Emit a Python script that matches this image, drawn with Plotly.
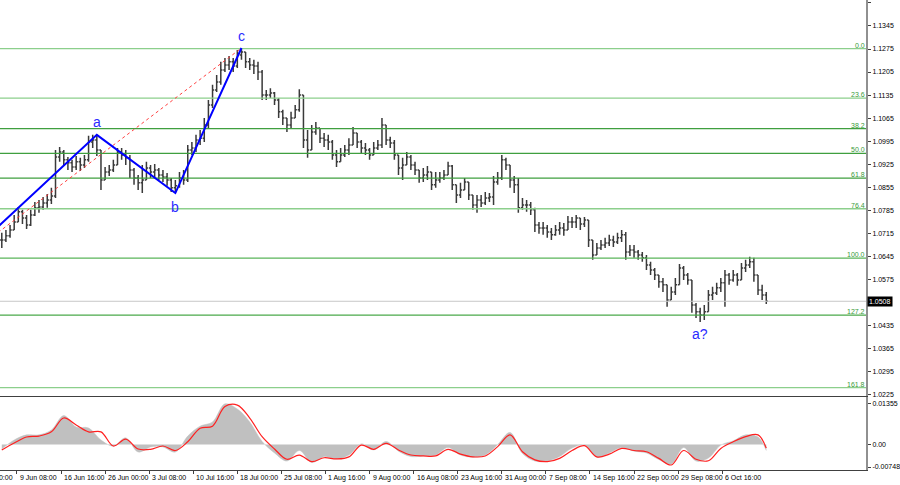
import plotly.graph_objects as go

# ---------------- data ----------------
TIME_LABELS = ["2 Jun 00:00", "9 Jun 08:00", "16 Jun 16:00", "26 Jun 00:00", "3 Jul 08:00",
               "10 Jul 16:00", "18 Jul 00:00", "25 Jul 08:00", "1 Aug 16:00", "9 Aug 00:00",
               "16 Aug 08:00", "23 Aug 16:00", "31 Aug 00:00", "7 Sep 08:00", "14 Sep 16:00",
               "22 Sep 00:00", "29 Sep 08:00", "6 Oct 16:00"]
BARS_PER_LABEL = 32          # H4 bars between time labels
FIRST_BAR = 21               # H4 index of first 12h bar (index 0 = 2 Jun 00:00)
BAR_STEP = 3                 # each drawn bar = 3 H4 bars

close = [1.0694, 1.0707, 1.0725, 1.0749, 1.0780, 1.0761, 1.0740, 1.0770, 1.0792, 1.0795,
         1.0807, 1.0816, 1.0828, 1.0947, 1.0962, 1.0938, 1.0929, 1.0916, 1.0932, 1.0922,
         1.0938, 1.0992, 1.0998, 1.0968, 1.0877, 1.0901, 1.0907, 1.0922, 1.0962, 1.0953,
         1.0944, 1.0907, 1.0883, 1.0868, 1.0877, 1.0913, 1.0901, 1.0907, 1.0892, 1.0886,
         1.0877, 1.0853, 1.0859, 1.0883, 1.0877, 1.0968, 1.0974, 1.0998, 1.1004, 1.1044,
         1.1105, 1.1150, 1.1175, 1.1211, 1.1226, 1.1236, 1.1223, 1.1257, 1.1266, 1.1236,
         1.1226, 1.1223, 1.1205, 1.1135, 1.1135, 1.1141, 1.1120, 1.1084, 1.1065, 1.1044,
         1.1065, 1.1090, 1.1135, 1.0998, 1.0968, 1.1023, 1.1035, 1.1004, 1.0998, 1.0992,
         1.0953, 1.0932, 1.0953, 1.0968, 1.0983, 1.1020, 1.0992, 1.0974, 1.0968, 1.0953,
         1.0974, 1.0983, 1.1044, 1.0998, 1.0989, 1.0953, 1.0913, 1.0922, 1.0947, 1.0922,
         1.0907, 1.0883, 1.0892, 1.0901, 1.0862, 1.0877, 1.0883, 1.0892, 1.0919, 1.0862,
         1.0831, 1.0846, 1.0871, 1.0831, 1.0801, 1.0816, 1.0807, 1.0822, 1.0825, 1.0871,
         1.0883, 1.0938, 1.0922, 1.0877, 1.0862, 1.0792, 1.0801, 1.0801, 1.0786, 1.0740,
         1.0731, 1.0731, 1.0719, 1.0710, 1.0725, 1.0731, 1.0725, 1.0749, 1.0749, 1.0761,
         1.0743, 1.0755, 1.0694, 1.0649, 1.0670, 1.0679, 1.0685, 1.0694, 1.0688, 1.0701,
         1.0710, 1.0658, 1.0664, 1.0658, 1.0649, 1.0640, 1.0618, 1.0603, 1.0588, 1.0567,
         1.0558, 1.0512, 1.0536, 1.0558, 1.0609, 1.0588, 1.0573, 1.0497, 1.0476, 1.0466,
         1.0476, 1.0527, 1.0533, 1.0549, 1.0564, 1.0588, 1.0573, 1.0588, 1.0573, 1.0609,
         1.0618, 1.0628, 1.0588, 1.0542, 1.0527, 1.0508]

high = [1.0716, 1.0725, 1.0740, 1.0770, 1.0795, 1.0786, 1.0770, 1.0786, 1.0810, 1.0816,
        1.0825, 1.0834, 1.0853, 1.0968, 1.0977, 1.0968, 1.0947, 1.0938, 1.0950, 1.0944,
        1.0953, 1.1011, 1.1014, 1.1014, 1.0968, 1.0916, 1.0922, 1.0938, 1.0974, 1.0974,
        1.0968, 1.0953, 1.0913, 1.0892, 1.0922, 1.0932, 1.0922, 1.0925, 1.0913, 1.0907,
        1.0898, 1.0883, 1.0877, 1.0901, 1.0907, 1.0983, 1.0992, 1.1014, 1.1029, 1.1065,
        1.1120, 1.1166, 1.1196, 1.1236, 1.1248, 1.1254, 1.1248, 1.1272, 1.1278, 1.1266,
        1.1248, 1.1242, 1.1236, 1.1211, 1.1150, 1.1156, 1.1144, 1.1126, 1.1090, 1.1065,
        1.1084, 1.1105, 1.1153, 1.1135, 1.1029, 1.1044, 1.1053, 1.1035, 1.1020, 1.1014,
        1.0998, 1.0968, 1.0974, 1.0983, 1.1004, 1.1038, 1.1020, 1.0998, 1.0989, 1.0974,
        1.0992, 1.0998, 1.1065, 1.1044, 1.1008, 1.0998, 1.0953, 1.0944, 1.0962, 1.0953,
        1.0932, 1.0907, 1.0913, 1.0919, 1.0892, 1.0901, 1.0901, 1.0907, 1.0932, 1.0922,
        1.0862, 1.0868, 1.0883, 1.0871, 1.0831, 1.0831, 1.0831, 1.0840, 1.0837, 1.0889,
        1.0901, 1.0953, 1.0944, 1.0922, 1.0889, 1.0883, 1.0822, 1.0816, 1.0810, 1.0792,
        1.0749, 1.0749, 1.0740, 1.0731, 1.0740, 1.0749, 1.0746, 1.0767, 1.0764, 1.0770,
        1.0761, 1.0764, 1.0755, 1.0694, 1.0685, 1.0694, 1.0701, 1.0710, 1.0707, 1.0716,
        1.0725, 1.0719, 1.0679, 1.0679, 1.0664, 1.0658, 1.0649, 1.0628, 1.0609, 1.0588,
        1.0579, 1.0558, 1.0552, 1.0579, 1.0621, 1.0615, 1.0594, 1.0573, 1.0503, 1.0488,
        1.0497, 1.0542, 1.0552, 1.0564, 1.0579, 1.0603, 1.0594, 1.0603, 1.0594, 1.0624,
        1.0634, 1.0643, 1.0640, 1.0588, 1.0558, 1.0536]

low = [1.0670, 1.0688, 1.0701, 1.0725, 1.0749, 1.0743, 1.0728, 1.0737, 1.0767, 1.0777,
       1.0786, 1.0792, 1.0804, 1.0822, 1.0932, 1.0919, 1.0907, 1.0901, 1.0907, 1.0904,
       1.0913, 1.0932, 1.0974, 1.0950, 1.0846, 1.0877, 1.0889, 1.0901, 1.0922, 1.0938,
       1.0922, 1.0883, 1.0862, 1.0846, 1.0837, 1.0889, 1.0883, 1.0886, 1.0877, 1.0871,
       1.0859, 1.0840, 1.0837, 1.0853, 1.0862, 1.0871, 1.0953, 1.0962, 1.0983, 1.0992,
       1.1035, 1.1096, 1.1144, 1.1166, 1.1205, 1.1211, 1.1205, 1.1217, 1.1242, 1.1217,
       1.1211, 1.1199, 1.1181, 1.1120, 1.1120, 1.1126, 1.1105, 1.1065, 1.1044, 1.1023,
       1.1035, 1.1065, 1.1084, 1.0974, 1.0944, 1.0983, 1.1014, 1.0989, 1.0977, 1.0968,
       1.0938, 1.0916, 1.0932, 1.0947, 1.0953, 1.0983, 1.0974, 1.0959, 1.0953, 1.0938,
       1.0959, 1.0968, 1.0974, 1.0983, 1.0974, 1.0938, 1.0892, 1.0877, 1.0922, 1.0907,
       1.0892, 1.0868, 1.0871, 1.0877, 1.0846, 1.0853, 1.0868, 1.0877, 1.0892, 1.0846,
       1.0807, 1.0822, 1.0846, 1.0816, 1.0786, 1.0777, 1.0795, 1.0801, 1.0810, 1.0801,
       1.0862, 1.0877, 1.0907, 1.0853, 1.0837, 1.0777, 1.0786, 1.0780, 1.0770, 1.0719,
       1.0713, 1.0710, 1.0701, 1.0694, 1.0707, 1.0710, 1.0707, 1.0731, 1.0731, 1.0731,
       1.0725, 1.0734, 1.0673, 1.0634, 1.0649, 1.0664, 1.0670, 1.0676, 1.0673, 1.0682,
       1.0688, 1.0634, 1.0646, 1.0640, 1.0634, 1.0628, 1.0603, 1.0588, 1.0573, 1.0549,
       1.0536, 1.0491, 1.0512, 1.0527, 1.0558, 1.0573, 1.0558, 1.0473, 1.0457, 1.0445,
       1.0451, 1.0476, 1.0512, 1.0527, 1.0536, 1.0491, 1.0558, 1.0567, 1.0555, 1.0579,
       1.0597, 1.0609, 1.0567, 1.0527, 1.0512, 1.0500]

# oscillator (MACD-like): histogram and signal line, sampled every 3rd bar + last bar
osc_hist = [-0.0015, 0.0015, 0.0032, 0.0032, 0.0048, 0.0096, 0.0058, 0.0055, 0.0015, -0.0005,
            0.0022, -0.0025, -0.0008, -0.0008, -0.0025, 0.0028, 0.0061, 0.0075, 0.0135, 0.0118,
            0.0075, 0.0010, -0.0028, -0.0055, -0.0020, -0.0060, -0.0040, -0.0048, -0.0035, 0.0002,
            -0.0018, 0.0010, -0.0022, -0.0040, -0.0038, -0.0035, -0.0010, -0.0035, -0.0042, -0.0035,
            0.0000, 0.0040, -0.0030, -0.0055, -0.0055, -0.0040, -0.0012, -0.0002, -0.0042, -0.0028,
            -0.0010, -0.0022, -0.0028, -0.0050, -0.0065, -0.0010, -0.0055, -0.0045, -0.0002, 0.0012,
            0.0032, 0.0025, -0.0020]
osc_signal = [-0.0018, 0.0005, 0.0025, 0.0028, 0.0042, 0.0088, 0.0065, 0.0042, 0.0042, -0.0005,
              0.0018, -0.0015, -0.0016, -0.0005, -0.0020, 0.0009, 0.0054, 0.0061, 0.0126, 0.0131,
              0.0088, 0.0026, -0.0015, -0.0049, -0.0035, -0.0057, -0.0044, -0.0048, -0.0041, -0.0002,
              -0.0016, 0.0004, -0.0018, -0.0035, -0.0038, -0.0038, -0.0016, -0.0032, -0.0041, -0.0038,
              -0.0007, 0.0032, -0.0024, -0.0051, -0.0057, -0.0046, -0.0020, -0.0004, -0.0041, -0.0032,
              -0.0013, -0.0020, -0.0024, -0.0046, -0.0068, -0.0020, -0.0049, -0.0054, -0.0013, 0.0009,
              0.0026, 0.0032, -0.0012]

# Elliott wave points (H4 index, price)
wave_x = [-6, 90, 147, 195]
wave_y = [1.0640, 1.1014, 1.0837, 1.1278]
wave_labels = ["", "a", "b", "c"]
extra_label = ("a?", 528, 1.0445)

# Fibonacci
FIB_HIGH = 1.1276
FIB_LOW = 1.0639
FIB_RATIOS = [0.0, 0.236, 0.382, 0.5, 0.618, 0.764, 1.0, 1.272, 1.618]
FIB_TEXT = ["0.0", "23.6", "38.2", "50.0", "61.8", "76.4", "100.0", "127.2", "161.8"]
FIB_COLORS = ["#8ccf8c", "#8ccf8c", "#3f9f3f", "#3f9f3f", "#3f9f3f", "#8ccf8c", "#5ab55a", "#4aa94a", "#8ccf8c"]

CURRENT_PRICE = 1.0508
PRICE_TICKS = [1.1415, 1.1345, 1.1275, 1.1205, 1.1135, 1.1065, 1.0995, 1.0925, 1.0855,
               1.0785, 1.0715, 1.0645, 1.0575, 1.0435, 1.0365, 1.0295, 1.0225]
OSC_TICKS = [0.01355, 0.0, -0.00748]
OSC_TICK_TEXT = ["0.01355", "0.00", "-0.00748"]

# ---------------- figure ----------------
XMIN, XMAX = 19.7, 648.4
YMAIN = [1.0220, 1.1424]
YOSC = [-0.00847, 0.01578]

bar_x = [FIRST_BAR + BAR_STEP * k for k in range(len(close))]
opens = [close[0]] + close[:-1]
hi = [max(h, o, c) for h, o, c in zip(high, opens, close)]
lo = [min(l, o, c) for l, o, c in zip(low, opens, close)]
osc_x = bar_x[::3] + [bar_x[-1]]

fig = go.Figure()

# fib lines
for r, t, col in zip(FIB_RATIOS, FIB_TEXT, FIB_COLORS):
    lvl = FIB_HIGH - r * (FIB_HIGH - FIB_LOW)
    fig.add_trace(go.Scatter(x=[XMIN, XMAX], y=[lvl, lvl], mode="lines",
                             line=dict(color=col, width=1.3), xaxis="x", yaxis="y",
                             hoverinfo="skip", showlegend=False))
    fig.add_annotation(x=1, xref="paper", y=lvl, yref="y", text=t, showarrow=False,
                       xanchor="right", yanchor="bottom", xshift=1, yshift=-2,
                       font=dict(family="Liberation Sans", size=7, color="#3a9a3a"))

# current price line
fig.add_trace(go.Scatter(x=[XMIN, XMAX], y=[CURRENT_PRICE, CURRENT_PRICE], mode="lines",
                         line=dict(color="#c8c8c8", width=1), xaxis="x", yaxis="y",
                         hoverinfo="skip", showlegend=False))

# price bars
fig.add_trace(go.Ohlc(x=bar_x, open=opens, high=hi, low=lo, close=close,
                      increasing=dict(line=dict(color="#3a3a3a", width=1.5)),
                      decreasing=dict(line=dict(color="#3a3a3a", width=1.5)),
                      tickwidth=0.4, xaxis="x", yaxis="y", hoverinfo="skip",
                      showlegend=False))

# red dashed fib trendline
fig.add_trace(go.Scatter(x=[wave_x[0], wave_x[-1]], y=[wave_y[0], wave_y[-1]], mode="lines",
                         line=dict(color="#ff4040", width=1, dash="dot"), xaxis="x", yaxis="y",
                         hoverinfo="skip", showlegend=False))
# blue wave lines
fig.add_trace(go.Scatter(x=wave_x, y=wave_y, mode="lines",
                         line=dict(color="#0000ff", width=2), xaxis="x", yaxis="y",
                         hoverinfo="skip", showlegend=False))

label_font = dict(family="Liberation Sans", size=14, color="#2b2bff")
shifts = {"a": 13, "b": -14, "c": 12}
for lx, ly, lt in zip(wave_x, wave_y, wave_labels):
    if lt:
        fig.add_annotation(x=lx, y=ly, xref="x", yref="y", text=lt, showarrow=False,
                           yshift=shifts[lt], font=label_font)
fig.add_annotation(x=extra_label[1], y=extra_label[2], xref="x", yref="y", text=extra_label[0],
                   showarrow=False, yshift=-12, font=label_font)

# oscillator
fig.add_trace(go.Scatter(x=osc_x, y=osc_hist, mode="lines", fill="tozeroy",
                         fillcolor="#c0c0c0", line=dict(color="#c0c0c0", width=0.5, shape="spline"),
                         xaxis="x2", yaxis="y2", hoverinfo="skip", showlegend=False))
fig.add_trace(go.Scatter(x=osc_x, y=osc_signal, mode="lines",
                         line=dict(color="#ff2020", width=1.2, shape="spline"),
                         xaxis="x2", yaxis="y2", hoverinfo="skip", showlegend=False))

# current price tag
fig.add_annotation(x=1, xref="paper", y=CURRENT_PRICE, yref="y", text=f"{CURRENT_PRICE:.4f}",
                   showarrow=False, xanchor="left", xshift=1, bgcolor="#000000",
                   font=dict(family="Liberation Sans", size=7, color="#ffffff"), borderpad=1)

# time labels (left-aligned after their tick)
tick_x = [BARS_PER_LABEL * n for n in range(len(TIME_LABELS))]
for tx, tl in zip(tick_x, TIME_LABELS):
    fig.add_annotation(x=(tx - XMIN) / (XMAX - XMIN), xref="paper", y=0, yref="paper",
                       text=tl, showarrow=False, xanchor="left", yanchor="top",
                       xshift=1, yshift=-2,
                       font=dict(family="Liberation Sans", size=7, color="#000000"))

H = 470.0
axis_font = dict(family="Liberation Sans", size=7, color="#000000")
fig.update_layout(
    width=900, height=485,
    margin=dict(l=0, r=28, t=0, b=15),
    paper_bgcolor="white", plot_bgcolor="white",
    hovermode=False,
    xaxis=dict(domain=[0, 1], range=[XMIN, XMAX], anchor="y", showgrid=False, zeroline=False,
               showticklabels=False, showline=True, linecolor="#404040", linewidth=1,
               rangeslider=dict(visible=False), fixedrange=True),
    yaxis=dict(domain=[(H - 396) / H, 1], range=YMAIN, side="right", anchor="x",
               showgrid=False, zeroline=False, showline=True, linecolor="#909090", linewidth=2,
               ticks="outside", ticklen=3, tickcolor="#404040",
               tickvals=PRICE_TICKS, ticktext=[f"{v:.4f}" for v in PRICE_TICKS],
               tickfont=axis_font),
    xaxis2=dict(domain=[0, 1], range=[XMIN, XMAX], anchor="y2", showgrid=False, zeroline=False,
                showticklabels=False, showline=True, mirror=True, linecolor="#404040", linewidth=1,
                ticks="outside", ticklen=3, tickcolor="#404040", tickvals=tick_x, fixedrange=True),
    yaxis2=dict(domain=[0, (H - 397) / H], range=YOSC, side="right", anchor="x2",
                showgrid=False, zeroline=False, showline=True, linecolor="#909090", linewidth=2,
                ticks="outside", ticklen=3, tickcolor="#404040",
                tickvals=OSC_TICKS, ticktext=OSC_TICK_TEXT, tickfont=axis_font),
)

fig.write_html("out.html", config={"displayModeBar": False},
               post_script="document.body.style.margin='0';document.body.style.overflow='hidden';")
